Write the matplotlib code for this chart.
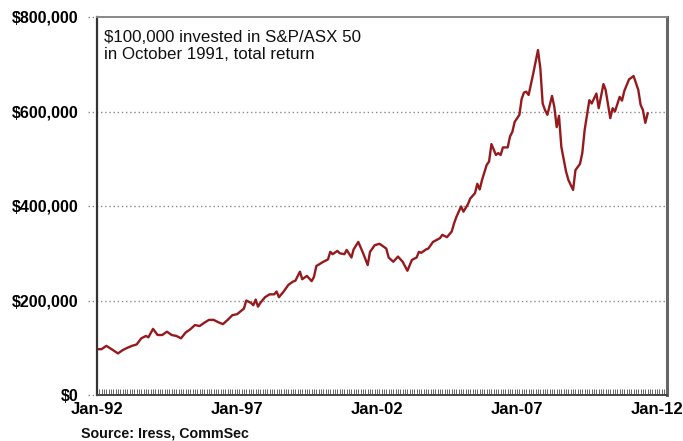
import matplotlib
matplotlib.use("Agg")
import matplotlib.pyplot as plt
import matplotlib.dates as mdates
import pandas as pd

plt.rcParams['font.family'] = ['Liberation Sans', 'DejaVu Sans']

months = [
    "1992-01", "1992-03", "1992-05", "1992-06", "1992-10", "1992-12",
    "1993-02", "1993-04", "1993-06", "1993-08", "1993-10", "1993-11",
    "1994-01", "1994-03", "1994-05", "1994-07", "1994-09", "1994-11",
    "1995-01", "1995-03", "1995-05", "1995-07", "1995-09", "1995-11",
    "1996-01", "1996-03", "1996-05", "1996-07", "1996-09", "1996-11",
    "1997-01", "1997-04", "1997-05", "1997-07", "1997-08", "1997-09",
    "1997-10", "1997-11", "1998-01", "1998-03", "1998-05", "1998-06",
    "1998-07", "1998-09", "1998-11", "1999-01", "1999-02", "1999-04",
    "1999-05", "1999-07", "1999-09", "1999-10", "1999-11", "2000-02",
    "2000-04", "2000-05", "2000-06", "2000-08", "2000-09", "2000-11",
    "2000-12", "2001-02", "2001-03", "2001-05", "2001-07", "2001-09",
    "2001-10", "2001-12", "2002-02", "2002-03", "2002-05", "2002-06",
    "2002-08", "2002-10", "2002-12", "2003-02", "2003-04", "2003-06",
    "2003-07", "2003-08", "2003-10", "2003-11", "2004-01", "2004-04",
    "2004-05", "2004-07", "2004-09", "2004-10", "2004-11", "2005-01",
    "2005-02", "2005-04", "2005-05", "2005-07", "2005-08", "2005-09",
    "2005-10", "2005-12", "2006-01", "2006-02", "2006-04", "2006-05",
    "2006-06", "2006-07", "2006-09", "2006-10", "2006-11", "2006-12",
    "2007-02", "2007-03", "2007-04", "2007-05", "2007-06", "2007-08",
    "2007-10", "2007-11", "2007-12", "2008-01", "2008-02", "2008-04",
    "2008-05", "2008-06", "2008-07", "2008-08", "2008-10", "2008-11",
    "2009-01", "2009-02", "2009-04", "2009-05", "2009-06", "2009-08",
    "2009-09", "2009-11", "2009-12", "2010-02", "2010-03", "2010-05",
    "2010-06", "2010-07", "2010-09", "2010-10", "2010-11", "2011-01",
    "2011-03", "2011-04", "2011-05", "2011-06", "2011-07", "2011-08",
    "2011-09",
]
values_k = [
    97, 97, 104, 101, 88, 95,
    100, 104, 107, 120, 125, 122,
    140, 127, 127, 134, 127, 125,
    120, 132, 139, 148, 146, 153,
    159, 159, 154, 150, 159, 169,
    171, 183, 200, 195, 190, 202,
    187, 195, 207, 213, 213, 219,
    207, 219, 233, 240, 242, 261,
    245, 252, 241, 250, 273, 282,
    287, 303, 298, 305, 300, 298,
    307, 291, 308, 324, 301, 275,
    303, 317, 320, 317, 310, 291,
    282, 293, 282, 263, 286, 291,
    303, 301, 308, 310, 324, 332,
    339, 334, 346, 363, 377, 399,
    388, 404, 416, 427, 447, 435,
    455, 487, 494, 531, 508, 512,
    508, 524, 524, 547, 557, 578,
    593, 626, 640, 642, 635, 681,
    730, 691, 617, 603, 593, 633,
    610, 567, 591, 525, 473, 455,
    434, 476, 489, 512, 561, 624,
    617, 638, 607, 658, 646, 586,
    607, 600, 631, 623, 644, 668,
    675, 660, 646, 614, 603, 576,
    596,
]
y_ticks = [0, 200000, 400000, 600000, 800000]
y_tick_labels = ["$0", "$200,000", "$400,000", "$600,000", "$800,000"]
x_tick_years = [1992, 1997, 2002, 2007, 2012]

dates = pd.to_datetime(months, format="%Y-%m")
values = [v * 1000 for v in values_k]

fig = plt.figure(figsize=(6.83, 4.41), dpi=100)
ax = fig.add_axes([97 / 683, 46 / 441, 570 / 683, 378 / 441])

ax.plot(dates, values, color="#961a1d", lw=1.7, solid_joinstyle="round")

ax.set_ylim(0, 800000)
ax.set_xlim(pd.Timestamp("1992-01-01"), pd.Timestamp("2012-05-10"))

ax.set_yticks(y_ticks)
ax.set_yticklabels(y_tick_labels, fontsize=11.5, fontweight="bold")
ax.tick_params(axis="y", length=0, pad=13)

ax.set_xticks([pd.Timestamp(f"{y}-01-01") for y in x_tick_years])
ax.xaxis.set_major_formatter(mdates.DateFormatter("%b-%y"))
ax.xaxis.set_minor_locator(mdates.MonthLocator())
for lab in ax.get_xticklabels():
    lab.set_fontsize(12)
    lab.set_fontweight("bold")
ax.tick_params(axis="x", which="both", direction="in", length=4, width=0.7,
               color="#666666", pad=5)

ytrans = ax.get_yaxis_transform()
for yv in y_ticks:
    x1 = 1.0 if 0 < yv < 800000 else 0.0
    ax.plot([-0.016, x1], [yv, yv], transform=ytrans, clip_on=False,
            color="#8a8a8a", lw=1.0, linestyle=(0, (1, 2)), zorder=0.5)

ax.spines["left"].set_color("#333333")
ax.spines["left"].set_linewidth(1.6)
ax.spines["bottom"].set_color("#444444")
ax.spines["bottom"].set_linewidth(1.4)
ax.spines["top"].set_color("#888888")
ax.spines["top"].set_linewidth(1.4)
ax.spines["right"].set_color("#666666")
ax.spines["right"].set_linewidth(2.2)

ax.text(0.012, 0.965, "$100,000 invested in S&P/ASX 50\nin October 1991, total return",
        transform=ax.transAxes, ha="left", va="top", fontsize=12.2,
        linespacing=1.15, color="#111111")

fig.text(81 / 683, 1 - 434 / 441, "Source: Iress, CommSec", ha="left",
         va="center", fontsize=10.3, fontweight="bold", color="#111111")

fig.savefig("out.png", dpi=100)
